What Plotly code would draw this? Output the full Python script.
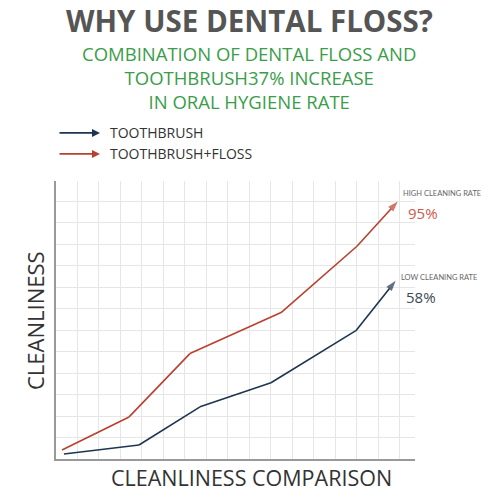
import plotly.graph_objects as go

# grid units (one unit = one grid square)
brush_x = [0.37, 3.86, 6.70, 10.0, 13.95, 15.8]
brush_y = [0.23, 0.65, 2.43, 3.55, 5.98, 8.3]
floss_x = [0.28, 3.40, 6.23, 10.47, 14.0, 15.9]
floss_y = [0.42, 1.96, 4.91, 6.82, 9.91, 12.0]

series_names = ["TOOTHBRUSH", "TOOTHBRUSH+FLOSS"]
end_labels = ["LOW CLEANING RATE", "HIGH CLEANING RATE"]
end_values = ["58%", "95%"]
subtitle_lines = ["COMBINATION OF DENTAL FLOSS AND",
                  "TOOTHBRUSH37% INCREASE",
                  "IN ORAL HYGIENE RATE"]

BLUE = "#1d3550"
RED = "#b8402e"
GREEN = "#3a9d4a"

fig = go.Figure()

for xs, ys, color in [(brush_x, brush_y, BLUE), (floss_x, floss_y, RED)]:
    sizes = [0] * (len(xs) - 1) + [11]
    fig.add_trace(go.Scatter(
        x=xs, y=ys, mode="lines+markers",
        line=dict(color=color, width=1.6),
        marker=dict(symbol="arrow", size=sizes, color=color,
                    angleref="previous", line=dict(width=0)),
        showlegend=False, hoverinfo="skip",
    ))

# end-of-line labels
for xs, ys, label, value, vcolor, shifts in [
    (brush_x, brush_y, end_labels[0], end_values[0], "#3b4856", (3, -16)),
    (floss_x, floss_y, end_labels[1], end_values[1], "#d0574a", (8, -12)),
]:
    fig.add_annotation(x=xs[-1], y=ys[-1], text=label, showarrow=False,
                       xanchor="left", yanchor="middle", xshift=3, yshift=shifts[0],
                       font=dict(family="Lato", size=7.5, color="#666666"))
    fig.add_annotation(x=xs[-1], y=ys[-1], text=value, showarrow=False,
                       xanchor="left", yanchor="middle", xshift=8, yshift=shifts[1],
                       font=dict(family="Open Sans", size=15, color=vcolor))

# titles
fig.add_annotation(xref="paper", yref="paper", x=0.538, y=1.577,
                   text="<b>WHY USE DENTAL FLOSS?</b>", showarrow=False,
                   xanchor="center", yanchor="middle",
                   font=dict(family="Open Sans", size=29.5, color="#555555"))
fig.add_annotation(xref="paper", yref="paper", x=0.538, y=1.374,
                   text="<br>".join(subtitle_lines), showarrow=False,
                   xanchor="center", yanchor="middle",
                   font=dict(family="Open Sans", size=18.5, color=GREEN))

# legend drawn as arrows
for i, (name, color) in enumerate(zip(series_names, [BLUE, RED])):
    ypos = 1.173 - i * 0.0755
    fig.add_annotation(xref="paper", yref="paper", x=0.1226, y=ypos,
                       ax=-42, ay=0, text="", showarrow=True,
                       arrowhead=2, arrowsize=1, arrowwidth=1.6, arrowcolor=color)
    fig.add_annotation(xref="paper", yref="paper", x=0.145, y=ypos,
                       text=name, showarrow=False, xanchor="left", yanchor="middle",
                       font=dict(family="Open Sans", size=14, color="#333333"))

# axis titles
fig.add_annotation(xref="paper", yref="paper", x=-0.0585, y=0.5,
                   text="CLEANLINESS", textangle=-90, showarrow=False,
                   xanchor="center", yanchor="middle",
                   font=dict(family="Open Sans", size=22, color="#333333"))
fig.add_annotation(xref="paper", yref="paper", x=0.545, y=-0.068,
                   text="CLEANLINESS COMPARISON", showarrow=False,
                   xanchor="center", yanchor="middle",
                   font=dict(family="Open Sans", size=21.5, color="#333333"))

fig.update_xaxes(range=[0, 16.7], dtick=1, tick0=0, showticklabels=False, ticks="",
                 showgrid=True, gridcolor="#e6e6e6", gridwidth=1,
                 showline=True, linecolor="#999999", linewidth=2,
                 zeroline=False, fixedrange=True)
fig.update_yaxes(range=[0, 12.95], dtick=1, tick0=0, showticklabels=False, ticks="",
                 showgrid=True, gridcolor="#e6e6e6", gridwidth=1,
                 showline=True, linecolor="#999999", linewidth=2,
                 zeroline=False, fixedrange=True)

fig.update_layout(
    width=500, height=500,
    margin=dict(l=56, r=85, t=181, b=41),
    paper_bgcolor="white", plot_bgcolor="white",
    showlegend=False,
)

# drop the default 8px body margin so the figure sits at the page corner
fig.write_html("out.html", config={"displayModeBar": False},
               post_script="document.body.style.margin='0';")
